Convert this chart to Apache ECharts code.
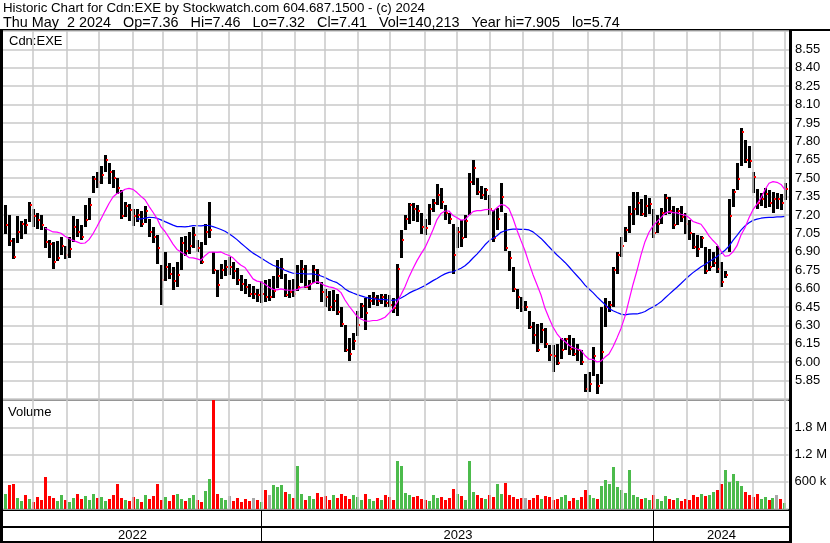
<!DOCTYPE html>
<html><head><meta charset="utf-8">
<script src="https://cdn.jsdelivr.net/npm/echarts@6/dist/echarts.min.js"></script>
<style>html,body{margin:0;padding:0;background:#fff}#chart{width:830px;height:543px}</style>
</head><body><div id="chart"></div>
<script>
// ---- data (each entry ≈ 2.5 trading days, May 2022 – May 2 2024) ----
const closes = [
7.12,6.99,6.86,7.06,7.13,7.12,7.28,7.19,7.16,7.12,
6.98,6.96,6.82,6.85,6.95,6.87,6.92,7.10,7.06,7.02,
7.16,7.28,7.49,7.47,7.53,7.65,7.55,7.50,7.42,7.19,
7.27,7.24,7.19,
7.20,7.13,7.23,7.06,7.02,6.93,6.67,
6.78,6.72,6.66,6.71,6.97,6.91,6.95,7.04,6.93,6.82,
7.06,7.08,6.75,6.63,6.75,6.78,6.78,6.74,6.67,6.64,
6.61,6.56,6.56,6.55,6.56,
6.53,6.53,6.58,6.70,6.76,
6.55,6.57,6.56,6.61,6.76,6.61,6.64,6.75,6.71,6.57,
6.53,6.45,6.50,6.41,6.31,6.10,6.07,6.17,6.30,6.46,
6.40,6.50,6.52,6.50,6.53,6.48,6.47,6.44,
6.76,7.00,
7.17,7.28,7.25,7.23,7.10,7.09,7.25,7.30,7.36,7.31,
7.22,7.17,6.87,7.06,7.01,7.15,7.47,7.58,7.39,7.36,
7.40,7.25,7.01,7.17,7.35,6.93,6.85,6.60,6.53,6.45,
6.45,6.29,6.22,6.10,6.26,6.15,6.06,6.05,5.99,6.10,
6.19,6.11,6.07,6.10,6.00,5.78,5.82,6.05,5.81,6.08,
6.45,6.47,6.75,6.87,6.95,7.08,7.21,7.25,7.30,7.21,
7.27,7.29,7.05,7.13,7.22,7.34,7.23,7.12,7.23,7.18,
7.13,7.05,6.94,6.92,7.01,6.74,6.78,6.81,6.76,6.65,
6.71,7.19,7.39,7.49,7.88,7.65,7.64,7.51,7.30,7.33,
7.37,7.30,7.33,7.33,7.30,7.41];
const highs = [
7.28,7.20,7.01,7.19,7.15,7.17,7.31,7.25,7.22,7.20,
7.10,7.00,6.98,6.99,7.02,6.95,7.02,7.19,7.17,7.12,
7.28,7.34,7.52,7.55,7.60,7.69,7.62,7.57,7.50,7.40,
7.31,7.29,7.25,
7.25,7.23,7.27,7.17,7.10,7.04,6.79,
6.90,6.81,6.78,6.82,7.02,7.03,7.06,7.10,7.00,6.98,
7.13,7.31,6.90,6.75,6.80,6.83,6.86,6.82,6.77,6.71,
6.68,6.64,6.62,6.60,6.66,
6.67,6.68,6.70,6.83,6.85,
6.72,6.67,6.68,6.79,6.83,6.79,6.67,6.79,6.76,6.65,
6.60,6.58,6.59,6.56,6.45,6.30,6.20,6.24,6.42,6.48,
6.52,6.55,6.57,6.55,6.56,6.56,6.55,6.52,
6.80,7.08,
7.20,7.30,7.30,7.28,7.22,7.17,7.29,7.33,7.45,7.42,
7.28,7.22,7.13,7.10,7.16,7.20,7.54,7.65,7.50,7.44,
7.42,7.36,7.24,7.26,7.46,7.22,6.91,6.78,6.60,6.53,
6.50,6.42,6.33,6.31,6.32,6.28,6.14,6.14,6.15,6.20,
6.20,6.22,6.20,6.15,6.10,5.90,5.92,6.12,5.90,6.45,
6.52,6.50,6.78,6.90,7.02,7.10,7.27,7.39,7.39,7.33,
7.36,7.34,7.25,7.20,7.26,7.37,7.35,7.27,7.26,7.27,
7.22,7.16,7.05,7.04,7.03,6.94,6.92,6.90,6.95,6.82,
6.74,7.33,7.41,7.62,7.91,7.81,7.76,7.55,7.41,7.38,
7.42,7.40,7.39,7.38,7.37,7.46];
const lows = [
7.04,6.95,6.84,6.97,7.00,7.05,7.15,7.10,7.09,7.08,
6.93,6.85,6.76,6.83,6.87,6.84,6.85,6.98,7.02,7.00,
7.10,7.16,7.38,7.42,7.45,7.55,7.45,7.42,7.37,7.16,
7.19,7.15,7.11,
7.14,7.10,7.13,7.02,6.97,6.80,6.46,
6.66,6.68,6.59,6.62,6.75,6.87,6.88,6.93,6.90,6.80,
6.96,7.02,6.72,6.53,6.68,6.70,6.71,6.68,6.63,6.58,
6.56,6.53,6.51,6.49,6.48,
6.49,6.50,6.52,6.60,6.68,
6.53,6.52,6.53,6.58,6.64,6.60,6.59,6.64,6.64,6.49,
6.45,6.42,6.42,6.39,6.29,6.08,6.01,6.10,6.22,6.36,
6.26,6.44,6.46,6.46,6.48,6.45,6.45,6.40,
6.38,6.85,
7.08,7.13,7.15,7.14,7.05,7.04,7.12,7.22,7.28,7.25,
7.16,7.13,6.72,6.93,6.94,7.01,7.20,7.45,7.36,7.33,
7.32,7.20,6.98,7.08,7.22,6.91,6.75,6.58,6.44,6.41,
6.42,6.27,6.15,6.08,6.16,6.12,6.01,5.92,5.98,6.03,
6.10,6.06,6.05,6.01,5.98,5.75,5.76,5.88,5.74,5.82,
6.28,6.41,6.45,6.72,6.86,6.98,7.05,7.12,7.20,7.19,
7.18,7.21,7.01,7.05,7.13,7.20,7.21,7.08,7.12,7.14,
7.05,7.00,6.92,6.86,6.93,6.72,6.74,6.78,6.73,6.62,
6.68,6.90,7.26,7.40,7.60,7.62,7.58,7.38,7.25,7.27,
7.26,7.26,7.22,7.25,7.24,7.32];
const volumesK = [
320,520,560,250,180,300,220,150,260,200,
700,280,240,180,300,200,150,250,320,210,
280,200,330,240,260,180,220,300,560,250,
200,180,270,230,160,300,220,280,560,200,
260,180,300,340,220,180,250,300,200,160,
400,650,2400,330,250,200,280,180,240,150,
220,170,250,190,160,420,300,520,480,530,
380,330,250,950,320,200,280,230,360,260,
280,200,300,250,320,280,220,300,260,200,
330,220,180,240,200,300,260,200,1060,950,
360,300,260,280,220,200,180,300,240,260,
200,240,450,330,280,200,1060,380,300,250,
220,300,270,550,330,580,300,260,220,240,
250,200,240,300,220,280,260,200,220,260,
300,180,240,200,260,420,300,250,220,500,
640,560,920,480,420,350,850,300,260,220,
250,200,300,230,180,280,220,200,250,180,
230,200,300,260,320,280,300,380,420,550,
850,600,770,620,500,380,300,260,330,220,
260,200,240,300,220,140];
// month boundaries and years, in entry-index units
const monthBounds = [7,15.5,23.5,32,39.5,48,56,64.25,72.5,80,88.25,96.25,105,113,121.25,129.5,137,145.75,154.25,162.25,170.5,178.75,187,195];
const yearSpans = [[-0.5,64.25,'2022'],[64.25,162.25,'2023'],[162.25,196,'2024']];
const priceTicks = {min:5.70, max:8.70, step:0.15};
const volTicks = {min:0, max:2400000, step:600000};
const titleLine1 = 'Historic Chart for Cdn:EXE by Stockwatch.com 604.687.1500 - (c) 2024';
const titleLine2 = 'Thu May  2 2024   Op=7.36   Hi=7.46   Lo=7.32   Cl=7.41   Vol=140,213   Year hi=7.905   lo=5.74';

// ---- build ----
const FONT = '"Liberation Sans", Arial, sans-serif';
const GRID_C = '#c8c8c8';
function sma(arr, n){const out=[];for(let i=n-1;i<arr.length;i++){let s=0;for(let j=i-n+1;j<=i;j++)s+=arr[j];out.push([i,s/n]);}return out;}
const maFast = sma(closes, 11), maSlow = sma(closes, 34);
const ohlc = closes.map((c,i)=>[i,lows[i],highs[i],c]);
const vol = volumesK.map((v,i)=>{
  const d = i===0 ? 1 : closes[i]-closes[i-1];
  return [i, v*1000, d>0.0001?0:(d<-0.0001?1:2)];
});
const VCOL = ['#4cbb4c','#ff0000','#a8a8a8'];
const monthLines = {silent:true, symbol:['none','none'], label:{show:false}, animation:false,
  lineStyle:{type:'solid', color:GRID_C, width:1.5}, data: monthBounds.map(v=>({xAxis:v}))};

const chart = echarts.init(document.getElementById('chart'), null, {renderer:'canvas'});
const xa = (gi)=>({type:'value', gridIndex:gi, min:-0.5, max:196, show:false});
chart.setOption({
  animation:false,
  backgroundColor:'#fff',
  textStyle:{fontFamily:FONT},
  grid:[
    {left:3, top:31, width:786, height:368},
    {left:3, top:400, width:786, height:109},
    {left:3, top:510, width:786, height:33}
  ],
  xAxis:[xa(0), xa(1), xa(2)],
  yAxis:[
    {type:'value', gridIndex:0, position:'right', min:priceTicks.min, max:priceTicks.max, interval:priceTicks.step,
     axisLine:{show:false}, axisTick:{show:false},
     splitLine:{show:true, lineStyle:{color:GRID_C, width:1.5}},
     axisLabel:{show:true, showMinLabel:false, showMaxLabel:false, margin:6, color:'#000', fontSize:13, fontFamily:FONT,
       formatter:v=>v.toFixed(2)}},
    {type:'value', gridIndex:1, position:'right', min:volTicks.min, max:volTicks.max, interval:volTicks.step,
     axisLine:{show:false}, axisTick:{show:false},
     splitLine:{show:true, lineStyle:{color:GRID_C, width:1.5}},
     axisLabel:{show:true, showMinLabel:false, showMaxLabel:false, margin:6, color:'#000', fontSize:13, fontFamily:FONT,
       formatter:v=> v>=1e6 ? (v/1e6).toFixed(1)+' M' : (v/1e3)+' k'}},
    {type:'value', gridIndex:2, min:0, max:1, show:false}
  ],
  series:[
    {type:'line', xAxisIndex:0, yAxisIndex:0, data:[], z:1, markLine:monthLines},
    {type:'line', xAxisIndex:1, yAxisIndex:1, data:[], z:1, markLine:monthLines},
    {type:'custom', xAxisIndex:0, yAxisIndex:0, z:3, data:ohlc, clip:true,
     renderItem:(p,api)=>{
       const i=api.value(0);
       const lo=api.coord([i,api.value(1)]), hi=api.coord([i,api.value(2)]), c=api.coord([i,api.value(3)]);
       const x=Math.round(lo[0]);
       return {type:'group', children:[
         {type:'rect', shape:{x:x-1, y:Math.round(hi[1]), width:3, height:Math.max(2,Math.round(lo[1]-hi[1]))}, style:{fill:'#000'}},
         {type:'rect', shape:{x:x+1, y:Math.round(c[1])-1, width:2, height:2}, style:{fill:'#ff0000'}}
       ]};
     }},
    {type:'line', xAxisIndex:0, yAxisIndex:0, z:4, data:maSlow, showSymbol:false, symbol:'none',
     lineStyle:{color:'#0000ff', width:1.2}},
    {type:'line', xAxisIndex:0, yAxisIndex:0, z:5, data:maFast, showSymbol:false, symbol:'none',
     lineStyle:{color:'#ff00ff', width:1.2}},
    {type:'custom', xAxisIndex:1, yAxisIndex:1, z:3, data:vol, clip:true,
     renderItem:(p,api)=>{
       const i=api.value(0);
       const top=api.coord([i,api.value(1)]), base=api.coord([i,0]);
       const x=Math.round(top[0]);
       const t=Math.max(Math.round(top[1]), p.coordSys.y);
       return {type:'rect', shape:{x:x-1, y:t, width:3, height:Math.round(base[1])-t},
         style:{fill:VCOL[api.value(2)]}};
     }},
    {type:'custom', xAxisIndex:2, yAxisIndex:2, z:3, data:yearSpans.map(s=>[s[0],s[1],s[2]]),
     renderItem:(p,api)=>{
       const a=api.value(0), b=api.value(1);
       const pa=api.coord([a,1]), pb=api.coord([b,0]);
       const mid=api.coord([(a+b)/2,0.22]);
       const ch=[{type:'text', style:{text:yearSpans[p.dataIndex][2], x:mid[0], y:mid[1], align:'center', verticalAlign:'middle',
         fill:'#000', font:'13px '+FONT}}];
       if(a>-0.5) ch.push({type:'rect', shape:{x:Math.round(pa[0])-1, y:pa[1], width:1, height:pb[1]-pa[1]}, style:{fill:'#000'}});
       return {type:'group', children:ch};
     }}
  ],
  graphic:[
    {type:'text', left:3, top:2, style:{text:titleLine1, fill:'#000', font:'13.3px '+FONT}},
    {type:'text', left:3, top:16, style:{text:titleLine2, fill:'#000', font:'14.4px '+FONT}},
    {type:'text', left:9, top:35, style:{text:'Cdn:EXE', fill:'#000', font:'13px '+FONT}},
    {type:'text', left:8, top:406, style:{text:'Volume', fill:'#000', font:'13px '+FONT}},
    {type:'rect', shape:{x:0, y:29, width:830, height:2}, style:{fill:'#000'}},
    {type:'rect', shape:{x:0, y:29, width:3, height:514}, style:{fill:'#000'}},
    {type:'rect', shape:{x:789, y:29, width:3, height:514}, style:{fill:'#000'}},
    {type:'rect', shape:{x:0, y:399, width:790, height:2}, style:{fill:'#000'}},
    {type:'rect', shape:{x:0, y:509, width:790, height:2}, style:{fill:'#000'}},
    {type:'rect', shape:{x:0, y:526, width:790, height:2}, style:{fill:'#000'}},
    {type:'rect', shape:{x:0, y:541, width:790, height:2}, style:{fill:'#000'}}
  ]
});
</script></body></html>
